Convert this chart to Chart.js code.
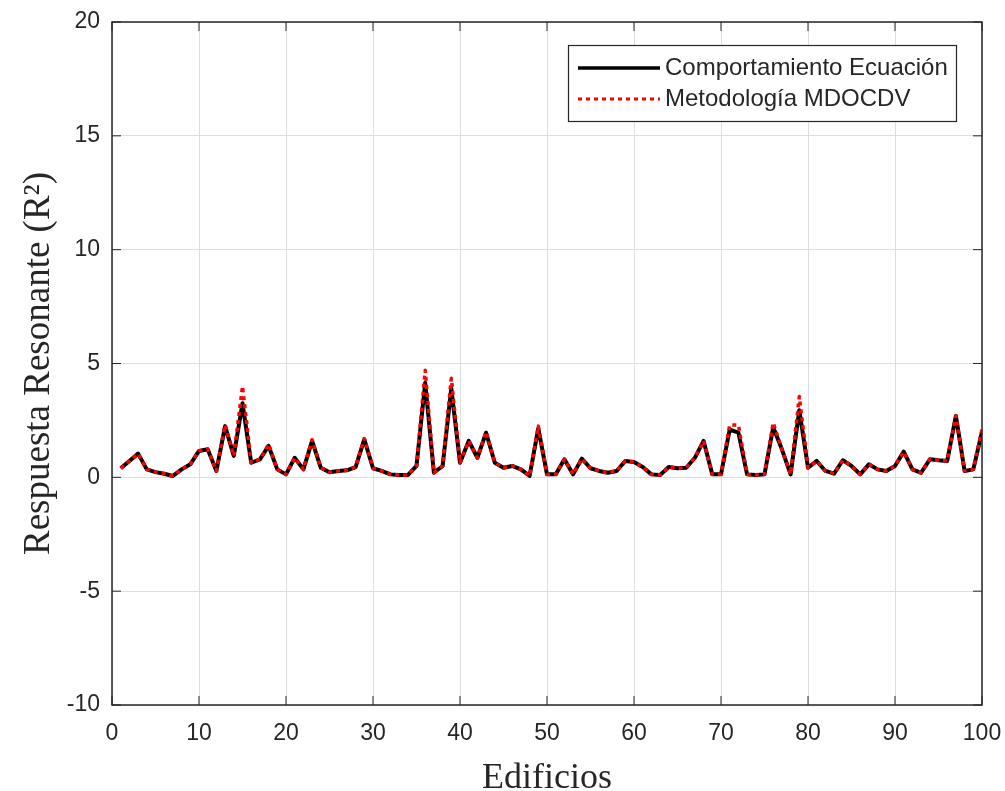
<!DOCTYPE html>
<html>
<head>
<meta charset="utf-8">
<script src="https://cdn.jsdelivr.net/npm/chart.js@4"></script>
<style>
  html, body { margin: 0; padding: 0; background: #fff; }
  #wrap { width: 1005px; height: 791px; position: relative; }
</style>
</head>
<body>
<div id="wrap"><canvas id="c"></canvas></div>
<script>
  // Building index 1..100
  var edificios = [];
  for (var i = 1; i <= 100; i++) edificios.push(i);

  var ecuacion = [
    0.40, 0.72, 1.04, 0.35, 0.23, 0.16, 0.06, 0.35, 0.57, 1.16,
    1.23, 0.28, 2.25, 0.94, 3.25, 0.64, 0.79, 1.38, 0.35, 0.13,
    0.86, 0.35, 1.60, 0.42, 0.22, 0.28, 0.31, 0.45, 1.67, 0.40,
    0.28, 0.13, 0.10, 0.10, 0.50, 4.15, 0.20, 0.50, 3.90, 0.64,
    1.60, 0.86, 1.96, 0.64, 0.42, 0.50, 0.35, 0.06, 2.15, 0.13,
    0.13, 0.79, 0.13, 0.82, 0.40, 0.28, 0.20, 0.28, 0.72, 0.67,
    0.45, 0.13, 0.10, 0.45, 0.40, 0.42, 0.86, 1.60, 0.13, 0.13,
    2.10, 1.96, 0.13, 0.10, 0.13, 2.20, 1.23, 0.13, 2.95, 0.42,
    0.72, 0.28, 0.16, 0.75, 0.50, 0.13, 0.57, 0.35, 0.28, 0.50,
    1.13, 0.35, 0.20, 0.79, 0.75, 0.72, 2.70, 0.28, 0.35, 2.00
  ];

  var metodologia = [
    0.40, 0.72, 1.04, 0.35, 0.23, 0.16, 0.06, 0.35, 0.57, 1.16,
    1.23, 0.28, 2.30, 0.94, 4.00, 0.64, 0.79, 1.45, 0.35, 0.13,
    0.86, 0.35, 1.65, 0.42, 0.22, 0.28, 0.31, 0.45, 1.70, 0.40,
    0.28, 0.13, 0.10, 0.10, 0.50, 4.70, 0.20, 0.50, 4.35, 0.64,
    1.60, 0.86, 2.00, 0.64, 0.42, 0.50, 0.35, 0.06, 2.25, 0.13,
    0.13, 0.79, 0.13, 0.82, 0.40, 0.28, 0.20, 0.28, 0.72, 0.67,
    0.45, 0.13, 0.10, 0.45, 0.40, 0.42, 0.86, 1.60, 0.13, 0.13,
    2.30, 2.30, 0.13, 0.10, 0.13, 2.40, 1.23, 0.13, 3.55, 0.42,
    0.72, 0.28, 0.16, 0.75, 0.50, 0.13, 0.57, 0.35, 0.28, 0.50,
    1.13, 0.35, 0.20, 0.79, 0.75, 0.72, 2.70, 0.28, 0.35, 2.10
  ];

  var xTicks = { min: 0, max: 100, step: 10 };
  var yTicks = { min: -10, max: 20, step: 5 };
  var labels = ["Comportamiento Ecuación", "Metodología MDOCDV"];

  function pts(vals) {
    return vals.map(function (v, i) { return { x: edificios[i], y: v }; });
  }

  var sans = "'Liberation Sans', Arial, sans-serif";
  var serif = "'Liberation Serif', 'Times New Roman', serif";

  function noPad(s) {
    s.paddingTop = 0; s.paddingBottom = 0;
    s.paddingLeft = 0; s.paddingRight = 0;
  }

  // MATLAB-ish box, inward ticks and legend
  var boxPlugin = {
    id: "boxPlugin",
    afterDraw: function (chart) {
      var ctx = chart.ctx, a = chart.chartArea;
      var xs = chart.scales.x, ys = chart.scales.y;
      ctx.save();
      ctx.strokeStyle = "#262626";
      ctx.lineWidth = 1.5;
      ctx.strokeRect(a.left, a.top, a.right - a.left, a.bottom - a.top);
      ctx.lineWidth = 1;
      var t = 9;
      xs.ticks.forEach(function (tk) {
        var px = xs.getPixelForValue(tk.value);
        ctx.beginPath();
        ctx.moveTo(px, a.bottom); ctx.lineTo(px, a.bottom - t);
        ctx.moveTo(px, a.top); ctx.lineTo(px, a.top + t);
        ctx.stroke();
      });
      ys.ticks.forEach(function (tk) {
        var py = ys.getPixelForValue(tk.value);
        ctx.beginPath();
        ctx.moveTo(a.left, py); ctx.lineTo(a.left + t, py);
        ctx.moveTo(a.right, py); ctx.lineTo(a.right - t, py);
        ctx.stroke();
      });

      // legend
      var lx = 568, ly = 45, lw = 388, lh = 76;
      ctx.fillStyle = "#fff";
      ctx.fillRect(lx, ly, lw, lh);
      ctx.strokeStyle = "#262626";
      ctx.lineWidth = 1.2;
      ctx.strokeRect(lx + 0.5, ly + 0.5, lw, lh);
      ctx.font = "24px " + sans;
      ctx.fillStyle = "#262626";
      ctx.textBaseline = "middle";
      ctx.lineWidth = 3.5;
      ctx.strokeStyle = "#000";
      ctx.beginPath(); ctx.moveTo(578, 68); ctx.lineTo(660, 68); ctx.stroke();
      ctx.fillText(labels[0], 665, 68);
      ctx.strokeStyle = "#ff0000";
      ctx.lineWidth = 3;
      ctx.setLineDash([4, 4]);
      ctx.beginPath(); ctx.moveTo(578, 99); ctx.lineTo(660, 99); ctx.stroke();
      ctx.setLineDash([]);
      ctx.fillText(labels[1], 665, 99);
      ctx.restore();
    }
  };

  new Chart(document.getElementById("c"), {
    type: "line",
    data: {
      datasets: [
        {
          label: labels[0],
          data: pts(ecuacion),
          borderColor: "#000",
          borderWidth: 4,
          borderJoinStyle: "round",
          pointRadius: 0,
          tension: 0,
          order: 1
        },
        {
          label: labels[1],
          data: pts(metodologia),
          borderColor: "#ff0000",
          borderWidth: 3.5,
          borderDash: [4, 4],
          borderJoinStyle: "round",
          pointRadius: 0,
          tension: 0,
          order: 0
        }
      ]
    },
    options: {
      responsive: true,
      maintainAspectRatio: false,
      animation: false,
      layout: { padding: { top: 22, right: 23, left: 0, bottom: 0 } },
      plugins: { legend: { display: false }, tooltip: { enabled: false } },
      scales: {
        x: {
          type: "linear",
          min: xTicks.min, max: xTicks.max,
          ticks: {
            stepSize: xTicks.step, padding: 15, color: "#262626",
            font: { family: sans, size: 23 }
          },
          grid: { color: "#dedede", drawTicks: false },
          border: { display: false },
          title: {
            display: true, text: "Edificios", color: "#262626",
            padding: { top: 0, bottom: -2 },
            font: { family: serif, size: 36, lineHeight: 0.8 }
          },
          afterFit: function (s) { s.height = 86; noPad(s); }
        },
        y: {
          min: yTicks.min, max: yTicks.max,
          ticks: {
            stepSize: yTicks.step, padding: 12, color: "#262626",
            font: { family: sans, size: 23 }
          },
          grid: { color: "#dedede", drawTicks: false },
          border: { display: false },
          title: {
            display: true, text: "Respuesta Resonante (R²)", color: "#262626",
            padding: { top: 17, bottom: 0 },
            font: { family: serif, size: 37 }
          },
          afterFit: function (s) { s.width = 112; noPad(s); }
        }
      }
    },
    plugins: [boxPlugin]
  });
</script>
</body>
</html>
